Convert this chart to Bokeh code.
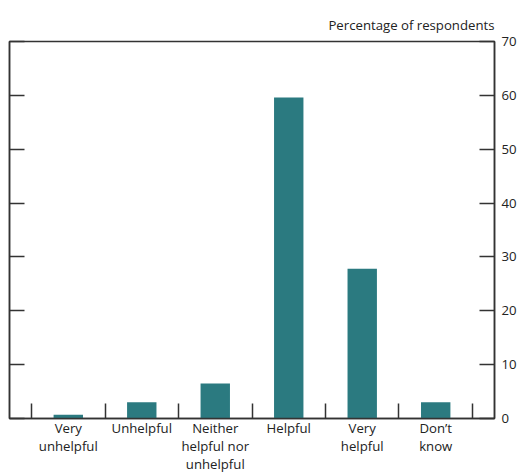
from bokeh.plotting import figure
from bokeh.models import FixedTicker, LinearAxis, Range1d, Title
from bokeh.embed import file_html
from bokeh.resources import INLINE

categories = ["Very\nunhelpful", "Unhelpful", "Neither\nhelpful nor\nunhelpful",
              "Helpful", "Very\nhelpful", "Don\u2019t\nknow"]
values = [0.7, 3.0, 6.5, 59.6, 27.8, 3.0]
y_ticks = [0, 10, 20, 30, 40, 50, 60, 70]

FONT = "Open Sans"
TXT = "#222222"
LINE = "#333333"
BAR = "#2b7a80"

n = len(categories)
centers = [i + 0.5 for i in range(n)]
bounds = [i for i in range(n + 1)]

p = figure(output_backend="svg", toolbar_location=None,
           width=519, height=476,
           x_range=Range1d(-0.3, n + 0.3), y_range=Range1d(0, 70),
           y_axis_location=None, x_axis_location=None,
           min_border_left=9, min_border_right=24, min_border_top=41, min_border_bottom=58)

p.vbar(x=centers, top=values, width=0.4, color=BAR, line_color=None)

p.grid.visible = False
p.outline_line_color = LINE
p.outline_line_width = 1.5
p.background_fill_color = "white"
p.border_fill_color = "white"

t = Title(text="Percentage of respondents", align="right", text_font=FONT,
          text_font_size="13.2px", text_font_style="normal", text_color=TXT,
          offset=0, standoff=15)
p.add_layout(t, "above")

# x axis: category labels at centres, boundary ticks as minor ticks
xa = LinearAxis(ticker=FixedTicker(ticks=centers, minor_ticks=bounds))
xa.major_label_overrides = {c: lab for c, lab in zip(centers, categories)}
xa.major_tick_in = 0
xa.major_tick_out = 0
xa.minor_tick_in = 15
xa.minor_tick_out = 0
xa.minor_tick_line_color = LINE
xa.minor_tick_line_width = 1.5
xa.axis_line_color = LINE
xa.axis_line_width = 1.5
xa.major_label_text_font = FONT
xa.major_label_text_font_size = "13.2px"
xa.major_label_text_color = TXT
xa.major_label_text_line_height = 1.0
xa.major_label_standoff = 0
p.add_layout(xa, "below")

# right y axis with labels
ra = LinearAxis(ticker=FixedTicker(ticks=y_ticks))
ra.major_tick_in = 15
ra.major_tick_out = 0
ra.minor_tick_line_color = None
ra.major_tick_line_color = LINE
ra.major_tick_line_width = 1.5
ra.axis_line_color = LINE
ra.axis_line_width = 1.5
ra.major_label_text_font = FONT
ra.major_label_text_font_size = "13.2px"
ra.major_label_text_color = TXT
ra.major_label_standoff = 7
p.add_layout(ra, "right")

# left y axis, ticks only
la = LinearAxis(ticker=FixedTicker(ticks=y_ticks))
la.major_tick_in = 15
la.major_tick_out = 0
la.minor_tick_line_color = None
la.major_tick_line_color = LINE
la.major_tick_line_width = 1.5
la.axis_line_color = LINE
la.axis_line_width = 1.5
la.major_label_overrides = {v: "" for v in y_ticks}
la.major_label_standoff = 0
p.add_layout(la, "left")

open("out.html", "w").write(file_html(p, INLINE))
